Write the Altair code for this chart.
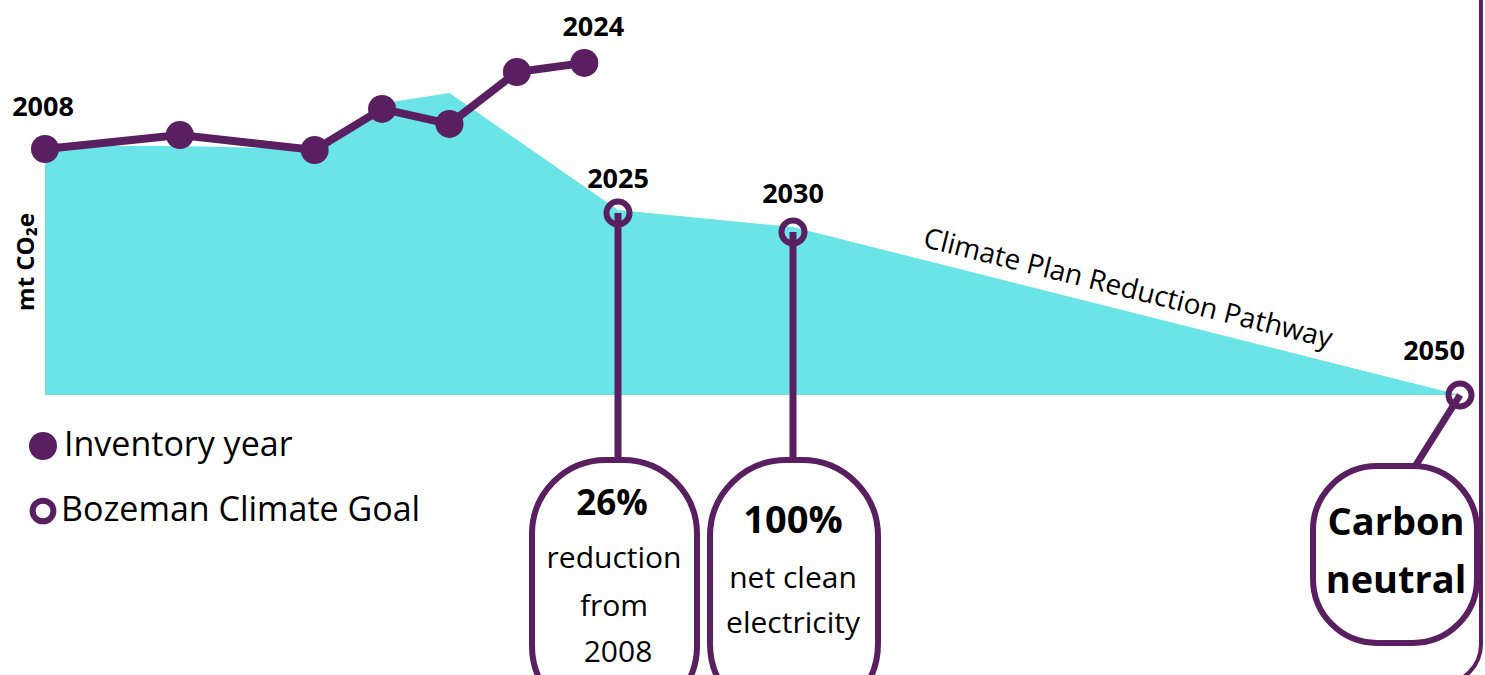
import altair as alt
import pandas as pd
import numpy as np

# ---------------- data ----------------
inv_years = [2008, 2012, 2016, 2018, 2020, 2022, 2024]
inv_values = [100.0, 105.7, 99.6, 116.3, 110.2, 131.3, 135.0]   # index, 2008 = 100

path_years = [2008, 2012, 2016, 2018, 2020, 2025, 2030, 2050]
path_values = [101.2, 101.2, 100.0, 118.5, 122.8, 75.2, 68.3, 0.0]

goal_years = [2025, 2030, 2050]
goal_values = [74.0, 66.3, 0.0]

year_labels = ["2008", "2024", "2025", "2030", "2050"]
legend_labels = ["Inventory year", "Bozeman Climate Goal"]
pathway_label = "Climate Plan Reduction Pathway"
y_title = "mt CO\u2082e"
callout_1 = ["26%", "reduction", "from", "2008"]
callout_2 = ["100%", "net clean", "electricity"]
callout_3 = ["Carbon", "neutral"]

# ---------------- style ----------------
PURPLE = "#5A1F60"
CYAN = "#6BE4E8"
FONT = "Open Sans"
W, H = 1485, 675

inv = pd.DataFrame({"year": inv_years, "value": inv_values})
path = pd.DataFrame({"year": path_years, "value": path_values})
goals = pd.DataFrame({"year": goal_years, "value": goal_values})

xs = alt.Scale(domain=[2008, 2025, 2030, 2050], range=[45, 618, 793, 1460], nice=False, zero=False)
ys = alt.Scale(domain=[0, 100], range=[395, 149], nice=False, zero=False)
X = lambda f="year": alt.X(f"{f}:Q", scale=xs, axis=None)
Y = lambda f="value": alt.Y(f"{f}:Q", scale=ys, axis=None)

one = pd.DataFrame({"a": [0]})


def text(s, x, y, size, bold=False, **kw):
    return alt.Chart(one).mark_text(
        text=s, font=FONT, fontSize=size, fontWeight="bold" if bold else "normal",
        color="black", align=kw.pop("align", "center"), baseline=kw.pop("baseline", "alphabetic"), **kw
    ).encode(x=x, y=y)


area = alt.Chart(path).mark_area(color=CYAN, opacity=1).encode(x=X(), y=Y())

frame = alt.Chart(one).mark_rect(
    fillOpacity=0, stroke=PURPLE, strokeWidth=4, cornerRadius=40
).encode(x=alt.value(-60), x2=alt.value(1481), y=alt.value(-60), y2=alt.value(684))

stems = alt.Chart(goals[goals.year < 2050]).mark_rule(color=PURPLE, strokeWidth=7).encode(
    x=X(), y=Y(), y2=alt.value(462)
)
stem_2050 = alt.Chart(goals[goals.year == 2050]).mark_rule(color=PURPLE, strokeWidth=7).encode(
    x=X(), y=Y(), x2=alt.value(1414), y2=alt.value(468)
)


def bubble(x0, x1, y0, y1, r):
    return alt.Chart(one).mark_rect(
        fill="white", stroke=PURPLE, strokeWidth=6, cornerRadius=r
    ).encode(x=alt.value(x0), x2=alt.value(x1), y=alt.value(y0), y2=alt.value(y1))


bubbles = [
    bubble(532, 697, 460, 720, 74),
    bubble(710, 878, 460, 720, 76),
    bubble(1313, 1477, 466, 643, 64),
]

line = alt.Chart(inv).mark_line(color=PURPLE, strokeWidth=8).encode(x=X(), y=Y())
dots = alt.Chart(inv).mark_circle(color=PURPLE, size=784, opacity=1).encode(x=X(), y=Y())
rings = alt.Chart(goals).mark_point(
    shape="circle", filled=False, color=PURPLE, size=530, strokeWidth=6, opacity=1
).encode(x=X(), y=Y())

# year labels anchored to their points
lab_inv = pd.DataFrame({"year": [2008, 2024], "value": [100.0, 135.0], "t": year_labels[:2]})
lab_goal = pd.DataFrame({"year": [2025, 2030], "value": [74.0, 66.3], "t": year_labels[2:4]})
lab_end = pd.DataFrame({"year": [2050], "value": [0.0], "t": year_labels[4:]})


def ylab(df, dx, dy):
    return alt.Chart(df).mark_text(
        font=FONT, fontSize=27, fontWeight="bold", color="black", baseline="middle", dx=dx, dy=dy
    ).encode(x=X(), y=Y(), text="t:N")


labels = [
    ylab(lab_inv.iloc[[0]], -2, -41),
    ylab(lab_inv.iloc[[1]], 9, -35),
    ylab(lab_goal.iloc[[0]], 0, -33),
    ylab(lab_goal.iloc[[1]], 0, -37),
    ylab(lab_end, -26, -43),
]

mid_val = float(np.interp(2040, path_years, path_values))
pathway = alt.Chart(pd.DataFrame({"year": [2040], "value": [mid_val], "t": [pathway_label]})).mark_text(
    font=FONT, fontSize=28, color="black", angle=14, baseline="middle", dy=-21, dx=-4
).encode(x=X(), y=Y(), text="t:N")

ytitle = text(y_title, alt.value(27), alt.value(262), 24, bold=True, angle=270, baseline="middle")

legend = [
    alt.Chart(one).mark_circle(color=PURPLE, size=784, opacity=1).encode(x=alt.value(43), y=alt.value(446)),
    alt.Chart(one).mark_point(shape="circle", filled=False, color=PURPLE, size=430, strokeWidth=6, opacity=1)
    .encode(x=alt.value(43), y=alt.value(511)),
    text(legend_labels[0], alt.value(64), alt.value(446), 34, align="left", baseline="middle"),
    text(legend_labels[1], alt.value(61), alt.value(511), 34, align="left", baseline="middle"),
]

c1 = [
    text(callout_1[0], alt.value(612), alt.value(515), 35, bold=True),
    text(callout_1[1], alt.value(614), alt.value(568), 30),
    text(callout_1[2], alt.value(614), alt.value(616), 30),
    text(callout_1[3], alt.value(618), alt.value(662), 30),
]
c2 = [
    text(callout_2[0], alt.value(793), alt.value(533), 38, bold=True),
    text(callout_2[1], alt.value(793), alt.value(588), 30),
    text(callout_2[2], alt.value(793), alt.value(633), 30),
]
c3 = [
    text(callout_3[0], alt.value(1396), alt.value(535), 38, bold=True),
    text(callout_3[1], alt.value(1396), alt.value(593), 38, bold=True),
]

chart = alt.layer(
    area, frame, stems, stem_2050, *bubbles, line, dots, rings, *labels, pathway, ytitle,
    *legend, *c1, *c2, *c3
).properties(
    width=W, height=H, autosize=alt.AutoSizeParams(type="none"), padding=0, background="white"
).configure_view(strokeWidth=0)

chart.save("out.html", embed_options={"renderer": "svg", "actions": False})
